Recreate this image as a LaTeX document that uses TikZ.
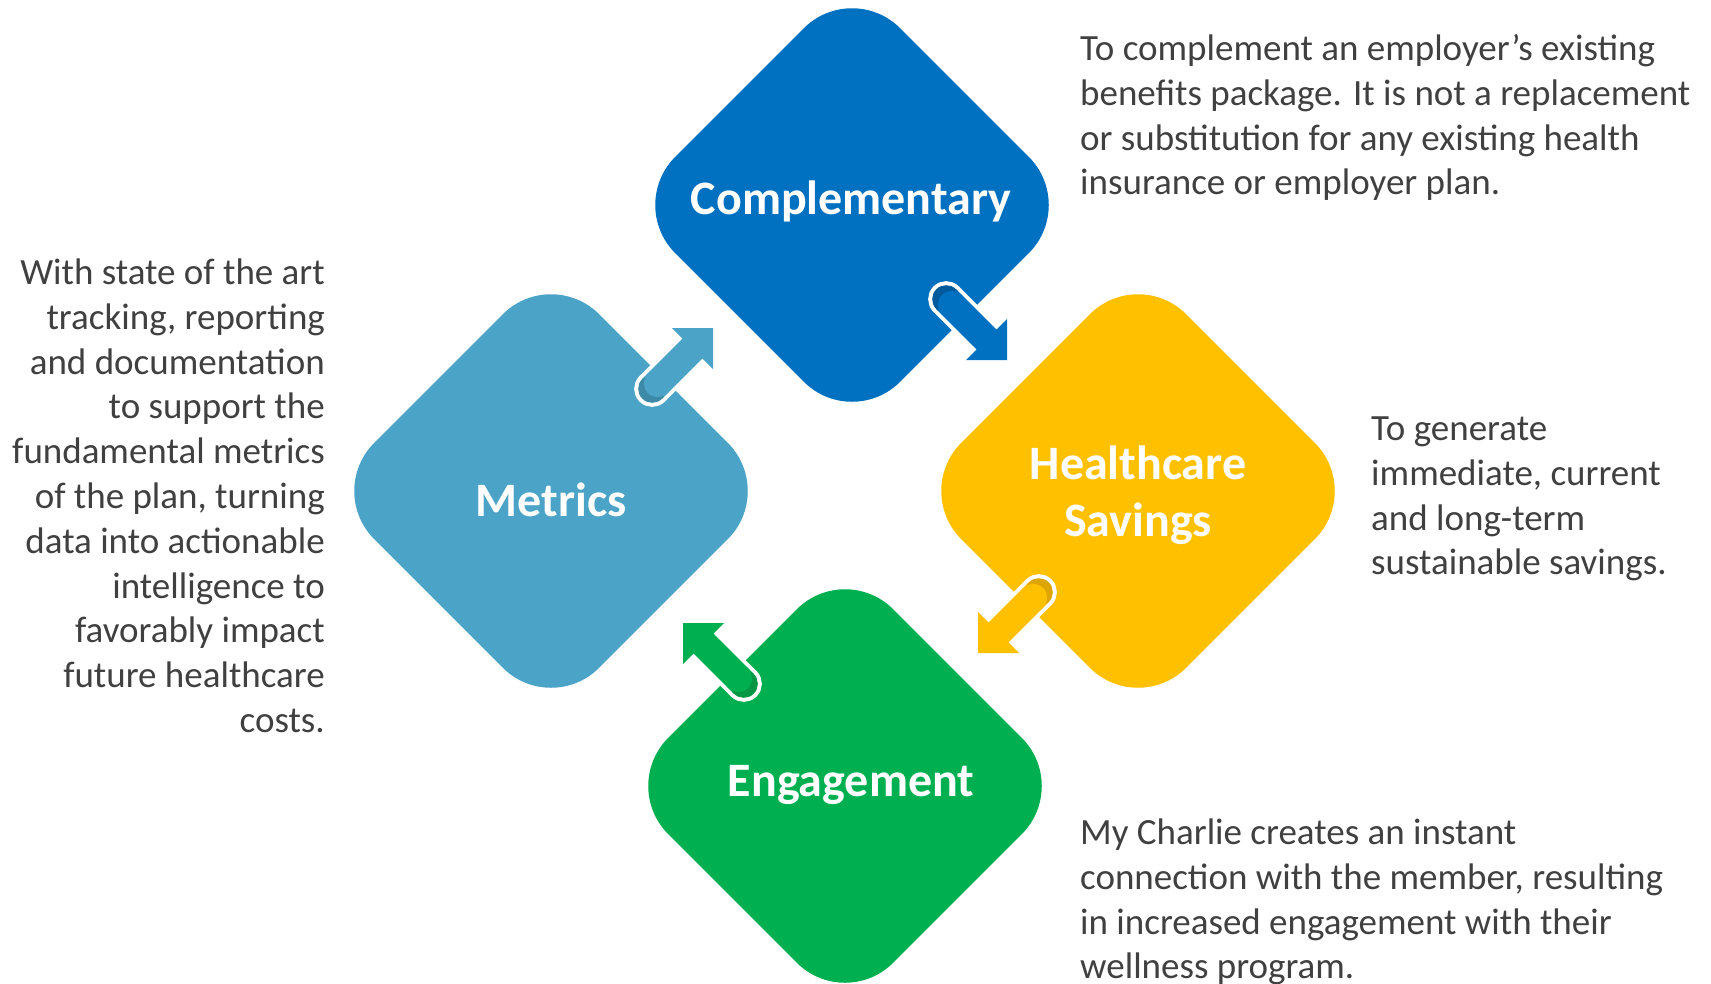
\documentclass[tikz,border=0pt]{standalone}
\usepackage{fontspec}
\setmainfont{Carlito}
\usetikzlibrary{shapes.geometric}
\definecolor{cblue}{HTML}{0070C0}
\definecolor{cbluedk}{HTML}{005A9C}
\definecolor{cmet}{HTML}{4BA3C7}
\definecolor{cmetdk}{HTML}{3C89A8}
\definecolor{cyel}{HTML}{FFC000}
\definecolor{cyeldk}{HTML}{DDA606}
\definecolor{cgrn}{HTML}{00B050}
\definecolor{cgrndk}{HTML}{069644}
\definecolor{tgray}{HTML}{404040}
\newcommand{\flowarrow}[5]{%
\begin{scope}[shift={(#1,#2)}, rotate=#3]
  \draw[white, line width=8pt, line join=round] (0,0) -- (-29,-29) -- (-29,-14) -- (-86,-14) -- (-86,14) -- (-29,14) -- (-29,29) -- cycle;
  \draw[white, line width=8pt] (-86,0) circle[radius=14];
  \fill[#4] (0,0) -- (-29,-29) -- (-29,-14) -- (-86,-14) -- (-86,14) -- (-29,14) -- (-29,29) -- cycle;
  \fill[#5] (-86,0) circle[radius=14];
  \fill[#4] (-78,0) circle[radius=14];
\end{scope}}
\begin{document}
\begin{tikzpicture}[x=1pt,y=-1pt,
  dia/.style={diamond, aspect=1, minimum width=450pt, minimum height=450pt, inner sep=0pt, rounded corners=68pt},
  ttl/.style={text=white, font=\fontsize{48}{57}\selectfont\bfseries, align=center},
  body/.style={text=tgray, font=\fontsize{37}{44.8}\selectfont, inner sep=0pt}]
\useasboundingbox (0,0) rectangle (1711,983);
\node[dia, fill=cblue] (C) at (852,205) {};
\node[dia, fill=cmet] (M) at (551,491) {};
\node[dia, fill=cyel] (H) at (1138,491) {};
\node[dia, fill=cgrn] (E) at (845,786) {};
\node[ttl] (Ct) at (851,201) {Complementary};
\node[ttl] (Mt) at (551,500) {Metrics};
\node[ttl] (Ht) at (1138,495) {Healthcare\\Savings};
\node[ttl] (Et) at (851,785) {Engagement};
\flowarrow{1007}{360}{-45}{cblue}{cbluedk}
\flowarrow{713}{328}{45}{cmet}{cmetdk}
\flowarrow{978}{653}{-135}{cyel}{cyeldk}
\flowarrow{683}{623}{135}{cgrn}{cgrndk}
\node[body, anchor=north west, align=left] (Cd) at (1080,29) {\strut To complement an employer’s existing\\benefits package. It is not a replacement\\or substitution for any existing health\\insurance or employer plan.};
\node[body, anchor=north west, align=left] (Hd) at (1371,409) {\strut To generate\\immediate, current\\and long-term\\sustainable savings.};
\node[body, anchor=north west, align=left] (Ed) at (1080,813) {\strut My Charlie creates an instant\\connection with the member, resulting\\in increased engagement with their\\wellness program.};
\node[body, anchor=north east, align=right] (Md) at (325,253) {\strut With state of the art\\tracking, reporting\\and documentation\\to support the\\fundamental metrics\\of the plan, turning\\data into actionable\\intelligence to\\favorably impact\\future healthcare\\costs.};
\end{tikzpicture}
\end{document}
